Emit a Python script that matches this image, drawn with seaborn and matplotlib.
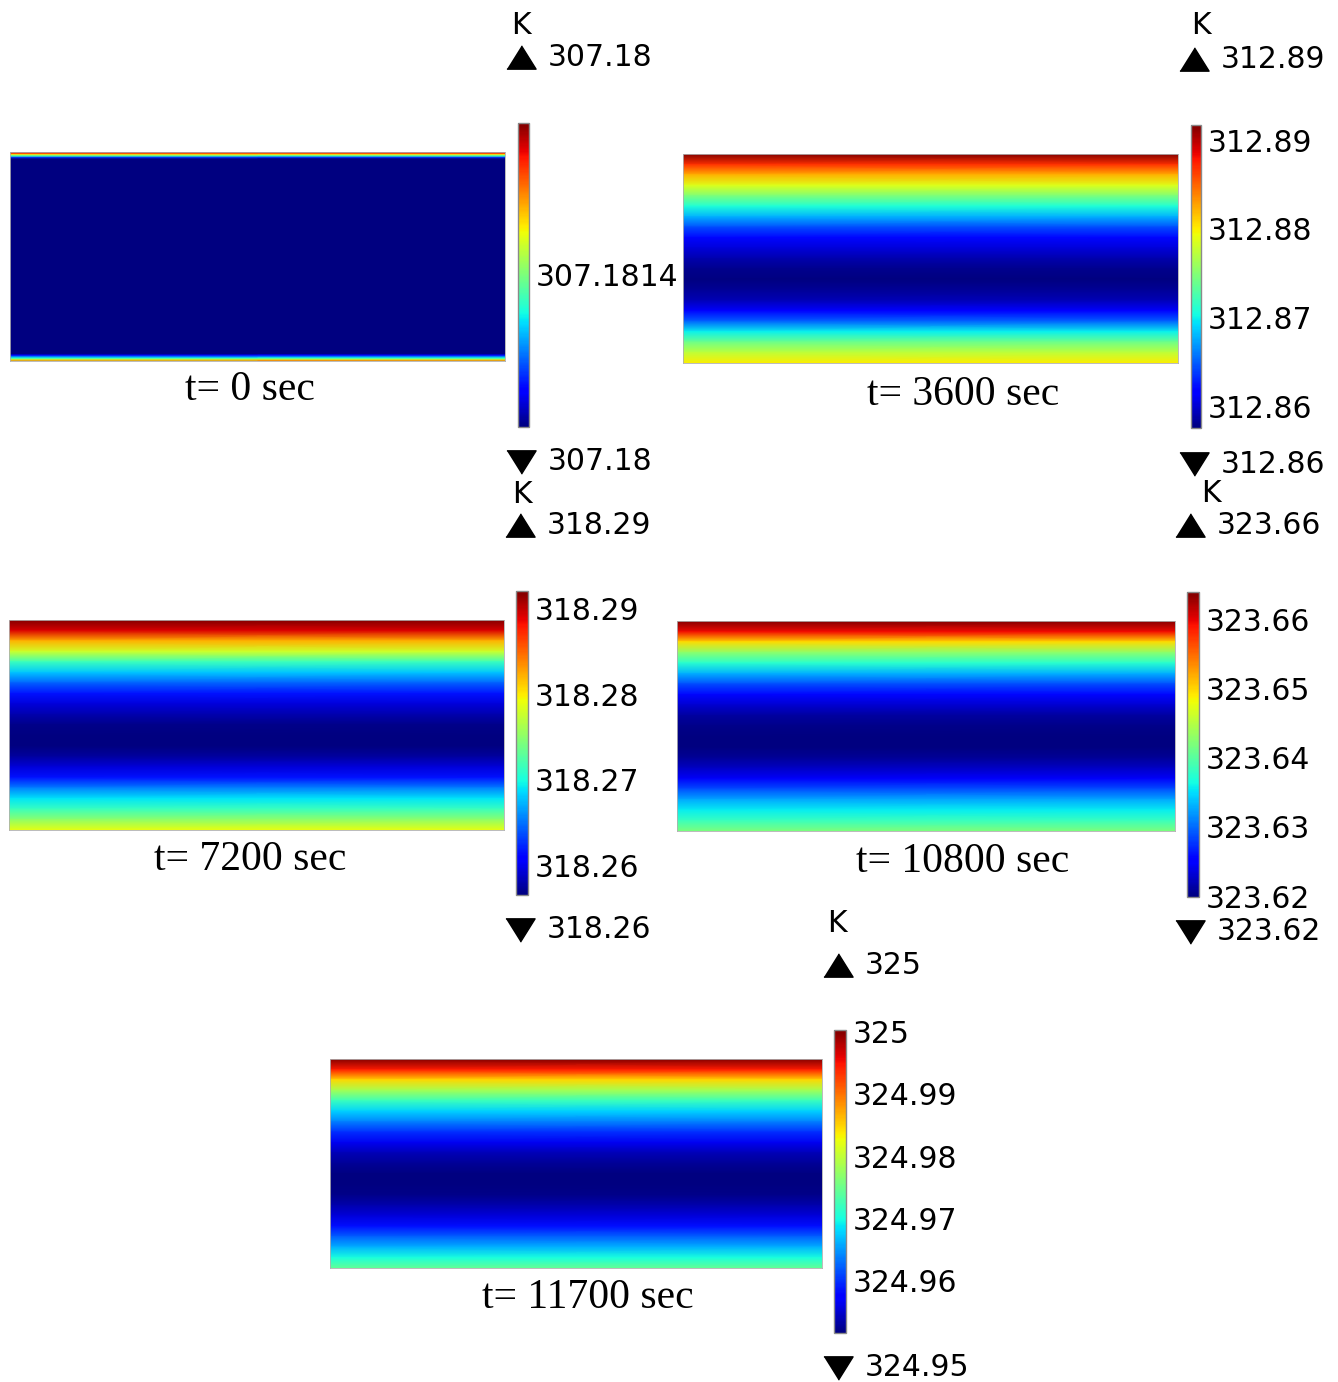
import numpy as np
import matplotlib
matplotlib.use('Agg')
import matplotlib.pyplot as plt
from matplotlib.lines import Line2D
import seaborn as sns

# figure size in pixels
W, H = 1338, 1382

# normalised depth through the layer (0 = top edge, 1 = bottom edge)
depth = [0.0, 0.05, 0.10, 0.15, 0.20, 0.25, 0.30, 0.35, 0.40, 0.45, 0.50,
         0.55, 0.60, 0.65, 0.70, 0.75, 0.80, 0.85, 0.90, 0.95, 1.0]
# t=0 only has thin boundary layers, so it is sampled near the edges
depth_0 = [0.0, 0.006, 0.013, 0.02, 0.027, 0.034, 0.966, 0.973, 0.98, 0.987, 0.993, 1.0]

# temperature (K)
temp_0 = [307.1828, 307.1825, 307.1819, 307.1812, 307.1805, 307.1800,
          307.1800, 307.1803, 307.1807, 307.1811, 307.1816, 307.1822]
temp_3600 = [312.8917, 312.8869, 312.8822, 312.8787, 312.8747, 312.8709, 312.8678,
             312.8644, 312.8620, 312.8603, 312.8590, 312.8581, 312.8576, 312.8583,
             312.8593, 312.8617, 312.8651, 312.8699, 312.8740, 312.8774, 312.8801]
temp_7200 = [318.2920, 318.2892, 318.2821, 318.2778, 318.2715, 318.2679, 318.2644,
             318.2616, 318.2594, 318.2580, 318.2570, 318.2566, 318.2566, 318.2577,
             318.2594, 318.2616, 318.2655, 318.2690, 318.2715, 318.2750, 318.2789]
temp_10800 = [323.6639, 323.6595, 323.6498, 323.6428, 323.6375, 323.6331, 323.6287,
              323.6256, 323.6230, 323.6212, 323.6203, 323.6199, 323.6199, 323.6208,
              323.6225, 323.6247, 323.6287, 323.6327, 323.6357, 323.6384, 323.6419]
temp_11700 = [325.0003, 324.9944, 324.9847, 324.9783, 324.9720, 324.9676, 324.9637,
              324.9598, 324.9564, 324.9539, 324.9525, 324.9515, 324.9515, 324.9520,
              324.9535, 324.9554, 324.9583, 324.9622, 324.9661, 324.9700, 324.9744]

captions = ['t= 0 sec', 't= 3600 sec', 't= 7200 sec', 't= 10800 sec', 't= 11700 sec']
max_labels = ['307.18', '312.89', '318.29', '323.66', '325']
min_labels = ['307.18', '312.86', '318.26', '323.62', '324.95']
cbar_ticks = [[307.1814],
              [312.86, 312.87, 312.88, 312.89],
              [318.26, 318.27, 318.28, 318.29],
              [323.62, 323.63, 323.64, 323.65, 323.66],
              [324.96, 324.97, 324.98, 324.99, 325.0]]

# layout in pixels: field box, colorbar box, K, up/down triangles, caption
layout = [
    dict(field=(10, 152, 505, 361), cbar=(518, 123, 529, 427), K=(521, 25),
         up=(521, 57), down=(521, 462), cap=(250, 390)),
    dict(field=(683, 154, 1178, 363), cbar=(1191, 125, 1201, 428), K=(1201, 25),
         up=(1194, 59), down=(1194, 464), cap=(963, 395)),
    dict(field=(9, 620, 504, 830), cbar=(516, 591, 528, 895), K=(522, 494),
         up=(520, 525), down=(520, 930), cap=(250, 860)),
    dict(field=(677, 621, 1175, 831), cbar=(1187, 592, 1199, 897), K=(1211, 493),
         up=(1190, 525), down=(1190, 932), cap=(963, 862)),
    dict(field=(330, 1059, 822, 1268), cbar=(834, 1030, 846, 1333), K=(837, 923),
         up=(838, 965), down=(838, 1368), cap=(588, 1298)),
]

sns.set_theme(style='white')
plt.rcParams['font.family'] = ['DejaVu Sans']
plt.rcParams['text.color'] = 'black'

fig = plt.figure(figsize=(W / 100, H / 100), dpi=100)
fig.patch.set_facecolor('white')

TRI_UP = [(-1, -0.8), (1, -0.8), (0, 0.8)]
TRI_DN = [(-1, 0.8), (1, 0.8), (0, -0.8)]


def box(b):
    x0, y0, x1, y1 = b
    return [x0 / W, 1 - y1 / H, (x1 - x0) / W, (y1 - y0) / H]


def pt(p):
    return p[0] / W, 1 - p[1] / H


def fmt(v):
    return ('%.4f' % v).rstrip('0').rstrip('.')


def draw_panel(d, T, lay, ticks, cap, lab_max, lab_min):
    d = np.asarray(d)
    T = np.asarray(T)
    ax = fig.add_axes(box(lay['field']))
    xx, yy = np.meshgrid([0.0, 1.0], d)
    cc = np.column_stack([T, T])
    mesh = ax.pcolormesh(xx, yy, cc, shading='gouraud', cmap='jet',
                         vmin=T.min(), vmax=T.max())
    ax.set_xlim(0, 1)
    ax.set_ylim(1, 0)
    ax.set_xticks([])
    ax.set_yticks([])
    for s in ax.spines.values():
        s.set_edgecolor('#b0b0b0')
        s.set_linewidth(0.6)

    cax = fig.add_axes(box(lay['cbar']))
    cb = fig.colorbar(mesh, cax=cax)
    cb.outline.set_edgecolor('#8a8a8a')
    cb.outline.set_linewidth(1.0)
    cb.set_ticks(ticks, labels=[fmt(v) for v in ticks])
    cax.tick_params(axis='y', direction='in', length=4, width=1, color='#333333',
                    labelsize=21.5, pad=5, labelcolor='black')

    kx, ky = pt(lay['K'])
    fig.text(kx, ky, 'K', fontsize=21.5, ha='center', va='center')
    ux, uy = pt(lay['up'])
    fig.add_artist(Line2D([ux], [uy], marker=TRI_UP, markersize=21, color='black',
                          linestyle='none', transform=fig.transFigure))
    fig.text(ux + 27 / W, uy, lab_max, fontsize=21.5, ha='left', va='center')
    dx, dy = pt(lay['down'])
    fig.add_artist(Line2D([dx], [dy], marker=TRI_DN, markersize=21, color='black',
                          linestyle='none', transform=fig.transFigure))
    fig.text(dx + 27 / W, dy, lab_min, fontsize=21.5, ha='left', va='center')
    cx, cy = pt(lay['cap'])
    fig.text(cx, cy, cap, fontsize=30, ha='center', va='center',
             family=['Liberation Serif', 'DejaVu Serif'])


profiles = [(depth_0, temp_0), (depth, temp_3600), (depth, temp_7200),
            (depth, temp_10800), (depth, temp_11700)]

for i, (d, T) in enumerate(profiles):
    draw_panel(d, T, layout[i], cbar_ticks[i], captions[i], max_labels[i], min_labels[i])

fig.savefig('out.png', dpi=100)
